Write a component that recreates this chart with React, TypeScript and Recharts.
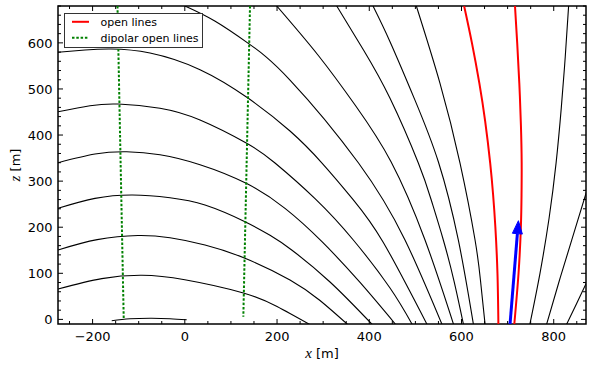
import React from 'react';
import { LineChart, Line, XAxis, YAxis, ReferenceArea, Legend } from 'recharts';

// ---------- axes ----------
const X_DOMAIN: [number, number] = [-275, 870];
const Z_DOMAIN: [number, number] = [-10, 680];
const X_TICKS = [-250, -200, -150, -100, -50, 0, 50, 100, 150, 200, 250, 300, 350, 400, 450, 500, 550, 600, 650, 700, 750, 800, 850];
const X_MAJOR = [-200, 0, 200, 400, 600, 800];
const Z_TICKS = [0, 20, 40, 60, 80, 100, 120, 140, 160, 180, 200, 220, 240, 260, 280, 300, 320, 340, 360, 380, 400, 420, 440, 460, 480, 500, 520, 540, 560, 580, 600, 620, 640, 660, 680];
const Z_MAJOR = [0, 100, 200, 300, 400, 500, 600];

type P = { x: number; z: number };
const pts = (a: number[][]): P[] => a.map(([x, z]) => ({ x, z }));

// ---------- field lines (x [m], z [m]) ----------
const ARC_0 = pts([[-158.5, -2.8], [-118.9, 1.3], [-71.8, 2.4], [-32.1, 1.5], [4.1, -0.7]]);
const ARCH_1 = pts([[-275, 65.9], [-180, 88.5], [-93, 95.7], [0, 86], [127, 57.3], [200, 28], [270, -10.5]]);
const ARCH_2 = pts([[-275, 150.6], [-190, 173], [-101.5, 182.0], [-32.1, 177.0], [43.8, 161.4], [130.5, 132.6], [228.1, 85.5], [293.2, 41], [352.5, -10.5]]);
const ARCH_3 = pts([[-275, 241.0], [-194.8, 262.5], [-113.4, 269.9], [-32.1, 264.0], [43.8, 248.2], [130.5, 212.0], [184.8, 182.4], [231.8, 150.6], [314.9, 81.1], [405.8, -10.5]]);
const ARCH_4 = pts([[-275, 340.0], [-194.8, 358.9], [-126.0, 363.8], [-53.8, 357.3], [33.0, 335.7], [134.2, 294.8], [217.3, 240.9], [296.9, 169.2], [380, 80.1], [456.8, -10.5]]);
const ARCH_5 = pts([[-275, 450.6], [-205.6, 463.6], [-144.2, 467.3], [-53.8, 458.2], [33.0, 432.6], [134.2, 382.1], [195.6, 339.3], [282.4, 262], [365.4, 172.3], [445, 68.1], [492.9, -10.5]]);
const ARCH_6 = pts([[-275, 579.5], [-216.4, 584.5], [-160.1, 586.7], [-75.5, 578.0], [33.0, 541.8], [137.7, 479.7], [228.1, 408.7], [297.5, 339.3], [365, 260], [430.5, 167], [525.1, -10.5]]);
const ARCH_7 = pts([[0.4, 680], [65, 647.5], [137.7, 599.0], [228.1, 519.4], [376.7, 339.3], [477.5, 172.3], [557.6, -10.5]]);
const ARCH_8 = pts([[199.3, 680], [290, 572], [370, 464], [447.2, 342], [520.9, 172.3], [582.7, -10.5]]);
const ARCH_9 = pts([[329.4, 680], [387.5, 584.5], [445.0, 479.7], [506.4, 339.3], [534.4, 259.0], [560.6, 172.3], [583.8, 83.3], [604.2, -10.5]]);
const ARCH_10 = pts([[408.1, 680], [445.0, 602.5], [498.2, 478], [549.8, 342], [593.1, 172.3], [625.8, -10.5]]);
const ARCH_11 = pts([[502.1, 680], [553.4, 512.3], [596.8, 339.3], [629.4, 172.3], [641.3, 83.3], [651.1, -10.5]]);
const ARCHES = [ARC_0, ARCH_1, ARCH_2, ARCH_3, ARCH_4, ARCH_5, ARCH_6, ARCH_7, ARCH_8, ARCH_9, ARCH_10, ARCH_11];

// lines on the right, listed top to bottom
const RIGHT_1 = pts([[832.3, 680], [825, 570], [816.5, 460], [805.1, 339], [790, 220], [770.2, 100], [748.3, -10.5]]);
const RIGHT_2 = pts([[872, 280], [839, 172], [811, 80], [784.6, -10.5]]);
const RIGHT_3 = pts([[875, 88], [850, 35], [828, -10.5]]);
const RIGHTS = [RIGHT_1, RIGHT_2, RIGHT_3];

// open lines (red)
const OPEN_1 = pts([[605.7, 680], [622.6, 600], [638.8, 512], [651.3, 430], [662.3, 338.6], [668.6, 270], [673.4, 201], [678.0, 100], [680, -10.5]]);
const OPEN_2 = pts([[716, 680], [720.8, 600], [725.4, 512], [728.9, 420], [730.5, 340], [730.2, 270], [728.8, 201], [723.7, 100], [714.5, -10.5]]);

// dipolar open lines (green)
const DIPOLAR_1 = pts([[-146, 680], [-132.5, 2.4]]);
const DIPOLAR_2 = pts([[141.4, 680], [126.9, 5.8]]);

// arrow (blue)
const ARROW = pts([[705.3, -10], [721.2, 186]]);

const LEGEND_ITEMS = [
  { label: 'open lines', color: '#ff0000', dash: '' },
  { label: 'dipolar open lines', color: '#008000', dash: '2.5 1.8' },
];

// ---------- layout ----------
const CHART_W = 591;
const CHART_H = 365;
const MARGIN = { top: 6, right: 5, bottom: 0, left: 0 };
const PLOT_TOP = MARGIN.top;
const PLOT_RIGHT = CHART_W - MARGIN.right;
const FONT = '"DejaVu Sans", sans-serif';
const MAJOR_LEN = 5;
const MINOR_LEN = 3;

const renderXTick = (props: any) => {
  const { x, y, payload } = props;
  const v = payload.value;
  const major = X_MAJOR.includes(v);
  const len = major ? MAJOR_LEN : MINOR_LEN;
  return (
    <g>
      <line x1={x} x2={x} y1={y} y2={y - len} stroke="#000" strokeWidth={1} />
      <line x1={x} x2={x} y1={PLOT_TOP} y2={PLOT_TOP + len} stroke="#000" strokeWidth={1} />
      {major && (
        <text x={x} y={y + 16.5} textAnchor="middle" fontFamily={FONT} fontSize={13} fill="#000">
          {v < 0 ? `\u2212${Math.abs(v)}` : `${v}`}
        </text>
      )}
    </g>
  );
};

const renderZTick = (props: any) => {
  const { x, y, payload } = props;
  const v = payload.value;
  const major = Z_MAJOR.includes(v);
  const len = major ? MAJOR_LEN : MINOR_LEN;
  return (
    <g>
      <line x1={x} x2={x + len} y1={y} y2={y} stroke="#000" strokeWidth={1} />
      <line x1={PLOT_RIGHT} x2={PLOT_RIGHT - len} y1={y} y2={y} stroke="#000" strokeWidth={1} />
      {major && (
        <text x={x - 5.5} y={y + 4.7} textAnchor="end" fontFamily={FONT} fontSize={13} fill="#000">
          {`${v}`}
        </text>
      )}
    </g>
  );
};

const XLabel = (props: any) => {
  const vb = props.viewBox || { x: 58, y: 324, width: 528, height: 41 };
  return (
    <text x={vb.x + vb.width / 2} y={vb.y + 33.5} textAnchor="middle" fontFamily={FONT} fontSize={13} fill="#000">
      <tspan fontFamily='"Liberation Serif", serif' fontStyle="italic" fontSize={15}>x</tspan>
      <tspan>{' [m]'}</tspan>
    </text>
  );
};

const ZLabel = (props: any) => {
  const vb = props.viewBox || { x: 0, y: 6, width: 58, height: 318 };
  const cx = vb.x + 20;
  const cy = vb.y + vb.height / 2;
  return (
    <text x={cx} y={cy} textAnchor="middle" fontFamily={FONT} fontSize={13} fill="#000" transform={`rotate(-90 ${cx} ${cy})`}>
      <tspan fontFamily='"Liberation Serif", serif' fontStyle="italic" fontSize={15}>z</tspan>
      <tspan>{' [m]'}</tspan>
    </text>
  );
};

const HEAD_LEN = 13;
const HEAD_W = 10;
const renderArrowHead = (props: any) => {
  const { cx, cy, index } = props;
  if (index !== ARROW.length - 1 || cx == null || cy == null) return <g key={`ah-${index}`} />;
  const a = ARROW[ARROW.length - 2];
  const b = ARROW[ARROW.length - 1];
  const ang = Math.atan2(b.x - a.x, b.z - a.z);
  const s = Math.sin(ang);
  const c = Math.cos(ang);
  const tip = [cx + HEAD_LEN * s, cy - HEAD_LEN * c];
  const l = [cx - (HEAD_W / 2) * c, cy - (HEAD_W / 2) * s];
  const r = [cx + (HEAD_W / 2) * c, cy + (HEAD_W / 2) * s];
  return (
    <polygon
      key={`ah-${index}`}
      points={`${l[0]},${l[1]} ${tip[0]},${tip[1]} ${r[0]},${r[1]}`}
      fill="#0000ff"
      stroke="#0000ff"
      strokeWidth={1}
    />
  );
};

const renderLegend = () => (
  <div
    style={{
      width: 139,
      height: 35,
      boxSizing: 'border-box',
      border: '1px solid #333',
      background: '#fff',
      position: 'relative',
    }}
  >
    <svg width={137} height={33} style={{ position: 'absolute', left: 0, top: 0 }}>
      {LEGEND_ITEMS.map((it, i) => (
        <g key={it.label}>
          <line
            x1={7}
            x2={24}
            y1={7.8 + i * 16}
            y2={7.8 + i * 16}
            stroke={it.color}
            strokeWidth={2}
            strokeDasharray={it.dash || undefined}
          />
          <text x={35.5} y={11.6 + i * 16} fontFamily={FONT} fontSize={11} fill="#000">
            {it.label}
          </text>
        </g>
      ))}
    </svg>
  </div>
);

const lineProps = {
  dataKey: 'z',
  dot: false as const,
  activeDot: false as const,
  isAnimationActive: false,
  legendType: 'none' as const,
};

export default function App() {
  return (
    <div style={{ position: 'absolute', left: 0, top: 0, width: CHART_W, height: CHART_H, background: '#fff' }}>
      <LineChart width={CHART_W} height={CHART_H} margin={MARGIN}>
        <XAxis
          xAxisId={0}
          type="number"
          dataKey="x"
          domain={X_DOMAIN}
          allowDataOverflow
          ticks={X_TICKS}
          interval={0}
          tick={renderXTick}
          tickLine={false}
          axisLine={false}
          tickSize={0}
          tickMargin={0}
          height={41}
          label={<XLabel />}
        />
        <YAxis
          yAxisId={0}
          type="number"
          domain={Z_DOMAIN}
          allowDataOverflow
          ticks={Z_TICKS}
          interval={0}
          tick={renderZTick}
          tickLine={false}
          axisLine={false}
          tickSize={0}
          tickMargin={0}
          width={58}
          label={<ZLabel />}
        />
        {ARCHES.map((d, i) => (
          <Line key={`arch-${i}`} data={d} type="natural" stroke="#000" strokeWidth={1.1} {...lineProps} />
        ))}
        {RIGHTS.map((d, i) => (
          <Line key={`right-${i}`} data={d} type="natural" stroke="#000" strokeWidth={1.1} {...lineProps} />
        ))}
        {[DIPOLAR_1, DIPOLAR_2].map((d, i) => (
          <Line
            key={`dip-${i}`}
            data={d}
            type="linear"
            stroke="#008000"
            strokeWidth={2}
            strokeDasharray="2.5 1.8"
            {...lineProps}
          />
        ))}
        <Line
          data={ARROW}
          dataKey="z"
          type="linear"
          stroke="#0000ff"
          strokeWidth={3}
          dot={renderArrowHead}
          activeDot={false}
          isAnimationActive={false}
          legendType="none"
        />
        {[OPEN_1, OPEN_2].map((d, i) => (
          <Line key={`open-${i}`} data={d} type="natural" stroke="#ff0000" strokeWidth={2} {...lineProps} />
        ))}
        <ReferenceArea
          x1={X_DOMAIN[0]}
          x2={X_DOMAIN[1]}
          y1={Z_DOMAIN[0]}
          y2={Z_DOMAIN[1]}
          fill="none"
          fillOpacity={0}
          stroke="#000"
          strokeWidth={1.5}
          ifOverflow="visible"
        />
        <Legend
          layout="horizontal"
          verticalAlign="middle"
          align="center"
          wrapperStyle={{ left: 64, top: 13, width: 139, height: 35 }}
          content={renderLegend}
        />
      </LineChart>
    </div>
  );
}
